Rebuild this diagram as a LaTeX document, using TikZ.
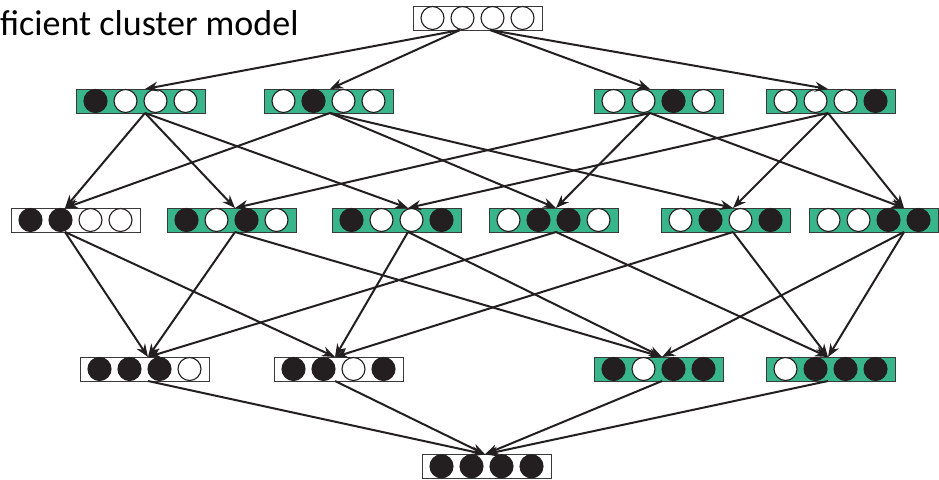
\documentclass[tikz,border=0pt]{standalone}
\usepackage{fontspec}
\setmainfont{Carlito}
\usetikzlibrary{arrows.meta}
\definecolor{grn}{HTML}{38B58B}
\definecolor{blk}{HTML}{231F20}
\definecolor{edgegray}{HTML}{3A3A3A}
\tikzset{
 boxst/.style={draw=edgegray, line width=1.1pt, minimum width=129pt, minimum height=24pt, inner sep=0pt, anchor=north west},
 c0/.style={circle, draw=blk, line width=1.1pt, fill=white, minimum size=23pt, inner sep=0pt},
 c1/.style={c0, fill=blk},
 conn/.style={draw=blk, line width=2pt, -{Stealth[length=13pt,width=10pt]}},
 titlest/.style={font=\fontsize{36}{40}\selectfont, inner sep=0pt, anchor=base west}
}
\newcommand\mkbox[6]{%
 \node[boxst, fill=#4] (#1) at (#2,#3) {};
 \foreach \b [count=\i] in {#5} {\node[c\b] (#1-\i) at (#2-10.5+30*\i, #3+12) {};}
 \coordinate (#1-t) at (#2+#6, #3);
 \coordinate (#1-b) at (#2+#6, #3+24);
}
\begin{document}
\begin{tikzpicture}[x=1pt,y=-1pt]
\useasboundingbox (0,0) rectangle (939,479);
\node[titlest] (title) at (0,35) {ficient cluster model};
% row 0
\mkbox{T}{413}{6}{white}{0,0,0,0}{47}
\coordinate (T-b2) at (490,30);
% row 1
\mkbox{A}{76}{89}{grn}{1,0,0,0}{69}
\mkbox{B}{264}{89}{grn}{0,1,0,0}{66}
\mkbox{C}{594}{89}{grn}{0,0,1,0}{56}
\mkbox{D}{766}{89}{grn}{0,0,0,1}{62}
% row 2
\mkbox{P}{11}{208}{white}{1,1,0,0}{54}
\mkbox{Q}{167}{208}{grn}{1,0,1,0}{68}
\mkbox{R}{332}{208}{grn}{1,0,0,1}{76}
\mkbox{S}{489}{208}{grn}{0,1,1,0}{67}
\mkbox{U}{661}{208}{grn}{0,1,0,1}{72}
\mkbox{V}{809}{208}{grn}{0,0,1,1}{95}
% row 3
\mkbox{W}{80}{357}{white}{1,1,1,0}{68}
\mkbox{X}{274}{357}{white}{1,1,0,1}{61}
\mkbox{Y}{594}{357}{grn}{1,0,1,1}{68}
\mkbox{Z}{766}{357}{grn}{0,1,1,1}{62}
% row 4
\mkbox{F}{422}{454.3}{white}{1,1,1,1}{63}
% connectors
\draw[conn] (T-b) -- (A-t);
\draw[conn] (T-b) -- (B-t);
\draw[conn] (T-b2) -- (C-t);
\draw[conn] (T-b2) -- (D-t);
\foreach \s/\t in {A/P,A/Q,A/R,B/P,B/S,B/U,C/Q,C/S,C/V,D/R,D/U,D/V,
  P/W,P/X,Q/W,Q/Y,R/X,R/Y,S/W,S/Z,U/X,U/Z,V/Y,V/Z,W/F,X/F,Y/F,Z/F}
  {\draw[conn] (\s-b) -- (\t-t);}
\end{tikzpicture}
\end{document}
